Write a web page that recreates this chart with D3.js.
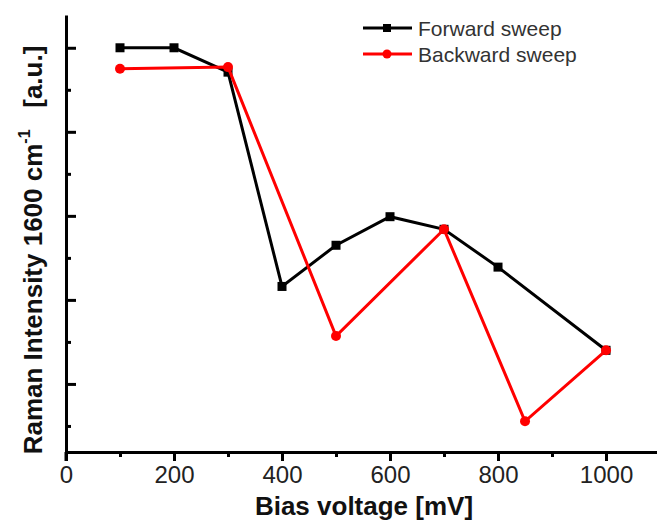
<!DOCTYPE html>
<html>
<head>
<meta charset="utf-8">
<script src="https://cdn.jsdelivr.net/npm/d3@7"></script>
<style>
  body { margin: 0; background: #fff; }
  svg { display: block; font-family: Arial, "Liberation Sans", sans-serif; }
  .axis path, .axis line { stroke: #000; stroke-width: 3; }
</style>
</head>
<body>
<div id="chart"></div>
<script>
// data (intensity in arbitrary units)
var forwardX = [100, 200, 300, 400, 500, 600, 700, 800, 1000]
var forwardY = [5.0, 5.0, 4.71, 2.16, 2.65, 2.99, 2.84, 2.39, 1.40]
var backwardX = [100, 300, 500, 700, 850, 1000]
var backwardY = [4.75, 4.77, 1.57, 2.84, 0.555, 1.40]
var xMajorTicks = [0, 200, 400, 600, 800, 1000]
var xMinorTicks = [100, 300, 500, 700, 900]
var yMajorTicks = [1, 2, 3, 4, 5]
var yMinorTicks = [0.5, 1.5, 2.5, 3.5, 4.5]
var seriesNames = ["Forward sweep", "Backward sweep"]

var W = 657, H = 523
var mLeft = 66, mRight = 657, mTop = 15, mBottom = 452

var svg = d3.select("#chart").append("svg")
    .attr("width", W)
    .attr("height", H)

var x = d3.scaleLinear().domain([0, 1094.4]).range([mLeft, mRight])
var y = d3.scaleLinear().domain([0.19, 5.39]).range([mBottom, mTop])

// x axis: ticks point down
svg.append("g")
    .attr("class", "axis")
    .attr("transform", "translate(0," + mBottom + ")")
    .call(d3.axisBottom(x).tickValues(xMajorTicks).tickSize(9).tickSizeOuter(0).tickPadding(5).tickFormat(d3.format("d")))
    .call(function (g) {
      g.selectAll("text")
          .attr("fill", "#222")
          .style("font-size", "24px")
    })
svg.append("g")
    .attr("class", "axis")
    .attr("transform", "translate(0," + mBottom + ")")
    .call(d3.axisBottom(x).tickValues(xMinorTicks).tickSize(5).tickFormat(""))
    .call(function (g) { g.select(".domain").remove() })

// y axis: ticks point inward, no labels
svg.append("g")
    .attr("class", "axis")
    .attr("transform", "translate(" + mLeft + ",0)")
    .call(d3.axisRight(y).tickValues(yMajorTicks).tickSize(10).tickSizeOuter(0).tickFormat(""))
svg.append("g")
    .attr("class", "axis")
    .attr("transform", "translate(" + mLeft + ",0)")
    .call(d3.axisRight(y).tickValues(yMinorTicks).tickSize(5).tickFormat(""))
    .call(function (g) { g.select(".domain").remove() })

// corner overlap at origin
svg.append("line")
    .attr("x1", mLeft).attr("x2", mLeft)
    .attr("y1", mBottom).attr("y2", mBottom + 9)
    .attr("stroke", "#000").attr("stroke-width", 3)

// titles
svg.append("text")
    .attr("x", 364)
    .attr("y", 515)
    .attr("text-anchor", "middle")
    .attr("font-weight", "bold")
    .attr("font-size", "26px")
    .attr("fill", "#111")
    .text("Bias voltage [mV]")

var yt = svg.append("text")
    .attr("transform", "translate(42,250) rotate(-90)")
    .attr("text-anchor", "middle")
    .attr("font-weight", "bold")
    .attr("font-size", "26px")
    .attr("fill", "#111")
yt.append("tspan").text("Raman Intensity 1600 cm")
yt.append("tspan").attr("dy", -12).attr("font-size", "16px").text("-1")
yt.append("tspan").attr("dy", 12).text("\u00a0\u00a0 [a.u.]")

var line = d3.line()
    .x(function (d) { return x(d[0]) })
    .y(function (d) { return y(d[1]) })

var fwd = forwardX.map(function (v, i) { return [v, forwardY[i]] })
var bwd = backwardX.map(function (v, i) { return [v, backwardY[i]] })

// forward sweep (black, squares)
svg.append("path")
    .datum(fwd)
    .attr("d", line)
    .attr("fill", "none")
    .attr("stroke", "#000")
    .attr("stroke-width", 3)
svg.selectAll("rect.fwd")
    .data(fwd)
    .enter()
    .append("rect")
    .attr("class", "fwd")
    .attr("x", function (d) { return x(d[0]) - 4.5 })
    .attr("y", function (d) { return y(d[1]) - 4.5 })
    .attr("width", 9)
    .attr("height", 9)
    .attr("fill", "#000")

// backward sweep (red, circles)
svg.append("path")
    .datum(bwd)
    .attr("d", line)
    .attr("fill", "none")
    .attr("stroke", "#ff0000")
    .attr("stroke-width", 3)
svg.selectAll("circle.bwd")
    .data(bwd)
    .enter()
    .append("circle")
    .attr("class", "bwd")
    .attr("cx", function (d) { return x(d[0]) })
    .attr("cy", function (d) { return y(d[1]) })
    .attr("r", 5)
    .attr("fill", "#ff0000")

// legend
var legend = svg.append("g")
var rows = [{ name: seriesNames[0], color: "#000", shape: "square", y: 28 },
            { name: seriesNames[1], color: "#ff0000", shape: "circle", y: 54 }]
rows.forEach(function (r) {
  legend.append("line")
      .attr("x1", 363).attr("x2", 412)
      .attr("y1", r.y).attr("y2", r.y)
      .attr("stroke", r.color).attr("stroke-width", 3)
  if (r.shape === "square") {
    legend.append("rect")
        .attr("x", 383).attr("y", r.y - 4)
        .attr("width", 8).attr("height", 8)
        .attr("fill", r.color)
  } else {
    legend.append("circle")
        .attr("cx", 387).attr("cy", r.y)
        .attr("r", 4.5)
        .attr("fill", r.color)
  }
  legend.append("text")
      .attr("x", 418)
      .attr("y", r.y + 7.5)
      .attr("font-size", "21px")
      .attr("fill", "#333")
      .text(r.name)
})
</script>
</body>
</html>
